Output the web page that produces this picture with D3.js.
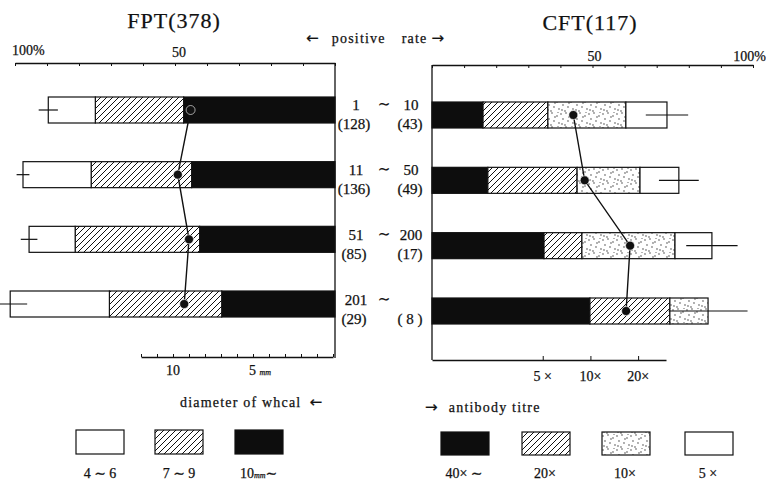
<!DOCTYPE html>
<html>
<head>
<meta charset="utf-8">
<script src="https://cdn.jsdelivr.net/npm/d3@7"></script>
<style>
body { margin: 0; background: #fff; }
svg text { font-family: "Liberation Serif", "DejaVu Serif", serif; fill: #111; stroke: #111; stroke-width: 0.25px; }
.arrow { font-family: "DejaVu Sans", sans-serif; }
</style>
</head>
<body>
<svg id="chart" width="766" height="481"></svg>
<script>
// titre groups (rows), number of cases per test
var rows = ["1-10", "11-50", "51-200", "201-"];
var rowLow = ["1", "11", "51", "201"];
var rowHigh = ["10", "50", "200", ""];
var fptCases = ["(128)", "(136)", "(85)", "(29)"];
var cftCases = ["(43)", "(49)", "(17)", "( 8 )"];

// FPT : positive rate (%) split by diameter of wheal
var fptLarge = [47.3, 44.8, 42.3, 35.4];   // 10mm ~
var fptMid = [27.6, 31.4, 38.9, 35.1];     // 7 ~ 9
var fptSmall = [14.7, 21.3, 14.4, 31];     // 4 ~ 6
var fptErr = [3, 2, 2.6, 5.3];
var fptMeanWheal = [8.9, 9.7, 9.0, 9.3];   // mm

// CFT : positive rate (%) split by antibody titre
var cft40 = [15.9, 17.4, 34.9, 49.2];      // 40x ~
var cft20 = [20.2, 27.8, 11.8, 24.9];
var cft10 = [24.3, 19.6, 29.0, 11.9];
var cft5 = [12.8, 12.1, 11.5, 0];
var cftErr = [6.6, 6.2, 8, 12.3];
var cftMeanTitre = [7.8, 9.2, 17.8, 16.8]; // x

var rateTicks = [0, 10, 20, 30, 40, 50, 60, 70, 80, 90, 100];
var whealTicks = [0, 1, 2, 3, 4, 5, 6, 7, 8, 9, 10, 11, 12];
var titreTicks = [5, 10, 20];

var svg = d3.select("#chart");
var defs = svg.append("defs");

/* patterns */
var hatch = defs.append("pattern")
	.attr("id", "hatch")
	.attr("patternUnits", "userSpaceOnUse")
	.attr("width", 6).attr("height", 6);
hatch.append("rect").attr("width", 6).attr("height", 6).attr("fill", "#fff");
hatch.append("path")
	.attr("d", "M-1,1 l2,-2 M0,6 l6,-6 M5,7 l2,-2")
	.attr("stroke", "#111").attr("stroke-width", 1);

var dotPts = [[1, 2], [6, 1], [11, 4], [3, 7], [8, 9], [13, 11], [2, 12], [9, 5], [5, 13], [12, 0]];
var dots = defs.append("pattern")
	.attr("id", "dots")
	.attr("patternUnits", "userSpaceOnUse")
	.attr("width", 14).attr("height", 14);
dots.append("rect").attr("width", 14).attr("height", 14).attr("fill", "#fff");
dots.selectAll("circle").data(dotPts).enter().append("circle")
	.attr("cx", d => d[0]).attr("cy", d => d[1]).attr("r", 0.65).attr("fill", "#222");

var fills = {
	large: "#0d0d0d", mid: "url(#hatch)", small: "#fff",
	t40: "#0d0d0d", t20: "url(#hatch)", t10: "url(#dots)", t5: "#fff"
};

/* scales */
var xL = d3.scaleLinear().domain([0, 100]).range([335, 15]);
var xR = d3.scaleLinear().domain([0, 100]).range([432, 753]);
var yL = d3.scalePoint().domain(rows).range([110, 304]);
var yR = d3.scalePoint().domain(rows).range([115, 311]);
var xWheal = d3.scaleLinear().domain([0, 12]).range([333, 141]);
var xTitre = d3.scaleLog().domain([1, 30]).range([432, 666]);
var barH = 26;

/* data tables */
var fptData = rows.map(function(r, i) {
	return { row: r, large: fptLarge[i], mid: fptMid[i], small: fptSmall[i] };
});
var cftData = rows.map(function(r, i) {
	return { row: r, t40: cft40[i], t20: cft20[i], t10: cft10[i], t5: cft5[i] };
});
var fptStack = d3.stack().keys(["large", "mid", "small"])(fptData);
var cftStack = d3.stack().keys(["t40", "t20", "t10", "t5"])(cftData);

/* titles */
svg.append("text").attr("x", 174).attr("y", 28).attr("text-anchor", "middle")
	.style("font-size", "22px").style("letter-spacing", "1px").text("FPT(378)");
svg.append("text").attr("x", 590).attr("y", 30).attr("text-anchor", "middle")
	.style("font-size", "22px").style("letter-spacing", "1px").text("CFT(117)");
var pr = svg.append("text").attr("x", 306).attr("y", 43).style("font-size", "14px").style("letter-spacing", "1.2px");
pr.append("tspan").attr("class", "arrow").style("font-size", "15px").text("\u2190");
pr.append("tspan").attr("dx", 12).text("positive");
pr.append("tspan").attr("dx", 16).text("rate");
pr.append("tspan").attr("class", "arrow").attr("dx", 4).style("font-size", "15px").text("\u2192");

/* top axes */
var topL = svg.append("g").attr("transform", "translate(0,63)")
	.call(d3.axisTop(xL).tickValues(rateTicks).tickSizeInner(-3).tickSizeOuter(0).tickFormat(""));
var topR = svg.append("g").attr("transform", "translate(0,65)")
	.call(d3.axisTop(xR).tickValues(rateTicks).tickSizeInner(-3).tickSizeOuter(0).tickFormat(""));
[topL, topR].forEach(function(g) {
	g.select(".domain").attr("stroke", "#111").attr("stroke-width", 1.3);
	g.selectAll(".tick line").attr("stroke", "#111");
});
svg.append("text").attr("x", xL(100) - 3).attr("y", 55).style("font-size", "14px").text("100%");
svg.append("text").attr("x", xL(50) + 4).attr("y", 57).attr("text-anchor", "middle").style("font-size", "14px").text("50");
svg.append("text").attr("x", xR(50) + 2).attr("y", 61).attr("text-anchor", "middle").style("font-size", "14px").text("50");
svg.append("text").attr("x", xR(100) + 13).attr("y", 61).attr("text-anchor", "end").style("font-size", "14px").text("100%");

/* vertical base lines */
svg.append("line").attr("x1", xL(0)).attr("x2", xL(0)).attr("y1", 63).attr("y2", 358)
	.attr("stroke", "#111").attr("stroke-width", 1.3);
svg.append("line").attr("x1", xR(0)).attr("x2", xR(0)).attr("y1", 65).attr("y2", 360)
	.attr("stroke", "#111").attr("stroke-width", 1.3);

/* bottom axes */
var botL = svg.append("g").attr("transform", "translate(0,357)")
	.call(d3.axisBottom(xWheal).tickValues(whealTicks).tickSizeInner(-3).tickSizeOuter(0).tickFormat(""));
var botR = svg.append("g").attr("transform", "translate(0,360)")
	.call(d3.axisBottom(xTitre).tickValues(titreTicks).tickSizeInner(-4).tickSizeOuter(0).tickFormat(""));
[botL, botR].forEach(function(g) {
	g.select(".domain").attr("stroke", "#111").attr("stroke-width", 1.3);
	g.selectAll(".tick line").attr("stroke", "#111");
});
svg.append("text").attr("x", xWheal(10)).attr("y", 375).attr("text-anchor", "middle").style("font-size", "14px").text("10");
var fiveMm = svg.append("text").attr("x", xWheal(5) - 4).attr("y", 375).style("font-size", "14px");
fiveMm.append("tspan").text("5 ");
fiveMm.append("tspan").style("font-size", "8px").style("font-style", "italic").text("mm");
svg.selectAll(".titre-lab").data(titreTicks).enter().append("text")
	.attr("x", d => xTitre(d)).attr("y", 381).attr("text-anchor", "middle")
	.style("font-size", "14px")
	.text(d => d == 5 ? "5 \u00d7" : d + "\u00d7");

var dw = svg.append("text").attr("x", 180).attr("y", 407).style("font-size", "14px").style("letter-spacing", "1.2px");
dw.append("tspan").text("diameter of  whcal");
dw.append("tspan").attr("class", "arrow").attr("dx", 8).style("font-size", "15px").text("\u2190");
var at = svg.append("text").attr("x", 425).attr("y", 412).style("font-size", "14px").style("letter-spacing", "1.2px");
at.append("tspan").attr("class", "arrow").style("font-size", "15px").text("\u2192");
at.append("tspan").attr("dx", 10).text("antibody  titre");

/* FPT bars */
svg.append("g").selectAll("g").data(fptStack).enter().append("g")
	.attr("fill", d => fills[d.key])
	.selectAll("rect").data(d => d).enter().append("rect")
	.attr("x", d => xL(d[1]))
	.attr("y", d => yL(d.data.row) - barH / 2)
	.attr("width", d => xL(d[0]) - xL(d[1]))
	.attr("height", barH)
	.attr("stroke", "#111").attr("stroke-width", 1.2);

svg.append("g").selectAll("line").data(rows).enter().append("line")
	.attr("x1", (d, i) => xL(fptLarge[i] + fptMid[i] + fptSmall[i] + fptErr[i]))
	.attr("x2", (d, i) => xL(fptLarge[i] + fptMid[i] + fptSmall[i] - fptErr[i]))
	.attr("y1", d => yL(d)).attr("y2", d => yL(d))
	.attr("stroke", "#111").attr("stroke-width", 1.2);

/* CFT bars */
svg.append("g").selectAll("g").data(cftStack).enter().append("g")
	.attr("fill", d => fills[d.key])
	.selectAll("rect").data(d => d.filter(e => e[1] > e[0])).enter().append("rect")
	.attr("x", d => xR(d[0]))
	.attr("y", d => yR(d.data.row) - barH / 2)
	.attr("width", d => xR(d[1]) - xR(d[0]))
	.attr("height", barH)
	.attr("stroke", "#111").attr("stroke-width", 1.2);

svg.append("g").selectAll("line").data(rows).enter().append("line")
	.attr("x1", (d, i) => xR(cft40[i] + cft20[i] + cft10[i] + cft5[i] - cftErr[i]))
	.attr("x2", (d, i) => xR(cft40[i] + cft20[i] + cft10[i] + cft5[i] + cftErr[i]))
	.attr("y1", d => yR(d)).attr("y2", d => yR(d))
	.attr("stroke", "#111").attr("stroke-width", 1.2);

/* mean lines with dots */
var lineL = d3.line().x((d, i) => xWheal(d)).y((d, i) => yL(rows[i]));
var lineR = d3.line().x((d, i) => xTitre(d)).y((d, i) => yR(rows[i]));
svg.append("path").attr("d", lineL(fptMeanWheal)).attr("fill", "none").attr("stroke", "#111").attr("stroke-width", 1.4);
svg.append("path").attr("d", lineR(cftMeanTitre)).attr("fill", "none").attr("stroke", "#111").attr("stroke-width", 1.4);
svg.append("g").selectAll("circle").data(fptMeanWheal).enter().append("circle")
	.attr("cx", d => xWheal(d)).attr("cy", (d, i) => yL(rows[i])).attr("r", 4.5)
	.attr("fill", "#111").attr("stroke", "#fff").attr("stroke-width", 0.6);
svg.append("g").selectAll("circle").data(cftMeanTitre).enter().append("circle")
	.attr("cx", d => xTitre(d)).attr("cy", (d, i) => yR(rows[i])).attr("r", 4.5)
	.attr("fill", "#111").attr("stroke", "#fff").attr("stroke-width", 0.6);

/* middle labels */
var mid = svg.append("g").style("font-size", "15px");
rows.forEach(function(r, i) {
	var yTop = (yL(r) + yR(r)) / 2 - 3;
	mid.append("text").attr("x", 356).attr("y", yTop).attr("text-anchor", "middle").text(rowLow[i]);
	mid.append("text").attr("x", 384).attr("y", yTop - 1).attr("text-anchor", "middle").text("\u223c");
	mid.append("text").attr("x", 411).attr("y", yTop).attr("text-anchor", "middle").text(rowHigh[i]);
	mid.append("text").attr("x", 354).attr("y", yTop + 19).attr("text-anchor", "middle").text(fptCases[i]);
	mid.append("text").attr("x", 410).attr("y", yTop + 19).attr("text-anchor", "middle").text(cftCases[i]);
});

/* legends */
var legL = [
	{ fill: fills.small, x: 76, label: "4 \u223c 6" },
	{ fill: fills.mid, x: 155, label: "7 \u223c 9" },
	{ fill: fills.large, x: 235, label: "10" }
];
var legR = [
	{ fill: fills.t40, x: 441, label: "40\u00d7 \u223c" },
	{ fill: fills.t20, x: 522, label: "20\u00d7" },
	{ fill: fills.t10, x: 602, label: "10\u00d7" },
	{ fill: fills.t5, x: 685, label: "5 \u00d7" }
];
svg.append("g").selectAll("rect").data(legL).enter().append("rect")
	.attr("x", d => d.x).attr("y", 430).attr("width", 48).attr("height", 24)
	.attr("fill", d => d.fill).attr("stroke", "#111").attr("stroke-width", 1.2);
var legLText = svg.append("g").selectAll("text").data(legL).enter().append("text")
	.attr("x", d => d.x + 24).attr("y", 478).attr("text-anchor", "middle")
	.style("font-size", "14px").text(d => d.label);
// "10mm ~" gets a small italic unit
legLText.filter((d, i) => i == 2).attr("x", 240).attr("text-anchor", "start")
	.call(function(t) {
		t.append("tspan").style("font-size", "8px").style("font-style", "italic").text("mm");
		t.append("tspan").text("\u223c");
	});
svg.append("g").selectAll("rect").data(legR).enter().append("rect")
	.attr("x", d => d.x).attr("y", 432).attr("width", 48).attr("height", 23)
	.attr("fill", d => d.fill).attr("stroke", "#111").attr("stroke-width", 1.2);
svg.append("g").selectAll("text").data(legR).enter().append("text")
	.attr("x", d => d.x + 23).attr("y", 478).attr("text-anchor", "middle")
	.style("font-size", "14px").text(d => d.label);
</script>
</body>
</html>
